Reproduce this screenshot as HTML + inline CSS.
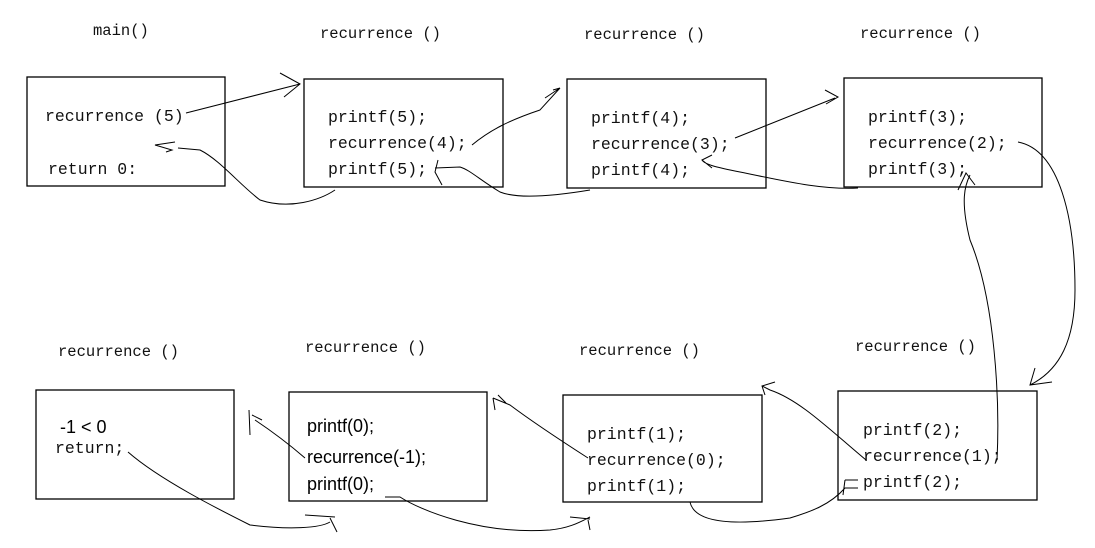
<!DOCTYPE html>
<html><head><meta charset="utf-8"><style>
body{margin:0;background:#fff;width:1095px;height:548px;overflow:hidden}
svg{display:block}
text{font-family:"Liberation Mono","Noto Serif CJK SC",monospace;font-size:16.5px;fill:#111}
.t{font-size:15.5px}
.s{font-family:"Liberation Sans","Noto Sans CJK SC",sans-serif;font-size:18px;fill:#000}
rect{fill:none;stroke:#000;stroke-width:1.3}
path{fill:none;stroke:#000;stroke-width:1}
</style></head><body>
<svg width="1095" height="548" viewBox="0 0 1095 548">
<text class="t" x="93" y="35">main()</text>
<text class="t" x="320" y="38">recurrence ()</text>
<text class="t" x="584" y="39">recurrence ()</text>
<text class="t" x="860" y="38">recurrence ()</text>
<text class="t" x="58" y="356">recurrence ()</text>
<text class="t" x="305" y="352">recurrence ()</text>
<text class="t" x="579" y="355">recurrence ()</text>
<text class="t" x="855" y="351">recurrence ()</text>

<rect x="27" y="77" width="198" height="109"/>
<rect x="304" y="79" width="199" height="108"/>
<rect x="567" y="79" width="199" height="109"/>
<rect x="844" y="78" width="198" height="109"/>
<rect x="36" y="390" width="198" height="109"/>
<rect x="289" y="392" width="198" height="109"/>
<rect x="563" y="395" width="199" height="107"/>
<rect x="838" y="391" width="199" height="109"/>

<text x="45" y="121">recurrence (5)</text>
<text x="48" y="174">return 0:</text>
<text x="328" y="122">printf(5);</text>
<text x="328" y="148">recurrence(4);</text>
<text x="328" y="174">printf(5);</text>
<text x="591" y="123">printf(4);</text>
<text x="591" y="149">recurrence(3);</text>
<text x="591" y="175">printf(4);</text>
<text x="868" y="122">printf(3);</text>
<text x="868" y="148">recurrence(2);</text>
<text x="868" y="174">printf(3);</text>
<text class="s" x="60" y="433">-1 &lt; 0</text>
<text x="55" y="453">return;</text>
<text class="s" x="307" y="432">printf(0);</text>
<text class="s" x="307" y="463">recurrence(-1);</text>
<text class="s" x="307" y="490">printf(0);</text>
<text x="587" y="439">printf(1);</text>
<text x="587" y="465">recurrence(0);</text>
<text x="587" y="491">printf(1);</text>
<text x="863" y="435">printf(2);</text>
<text x="863" y="461">recurrence(1);</text>
<text x="863" y="487">printf(2);</text>

<path d="M186 113 L300 84 M280 73 L300 84 L284 97"/>
<path d="M472 145 C490 130 510 120 540 110 L560 88 M545 98 L560 88 M553 90 L560 88"/>
<path d="M735 138 L835 98 M825 90 L838 97 L826 104"/>
<path d="M1018 142 C1060 150 1075 220 1075 290 C1075 340 1060 370 1030 385 M1035 368 L1030 385 L1052 382"/>
<path d="M997 460 C1000 400 995 300 970 240 C960 200 965 185 970 175 M958 190 L966 173 L975 185"/>
<path d="M866 460 C830 430 800 400 770 390 L762 386 M765 395 L762 386 L775 382"/>
<path d="M588 458 C560 440 530 420 510 405 L493 398 M495 410 L493 398 M498 395 L506 403"/>
<path d="M305 458 C290 445 270 430 255 420 M249 410 L250 435 M252 415 L262 420"/>
<path d="M128 452 C160 480 220 510 250 525 C290 530 320 528 330 522 M305 515 L335 517 M330 518 L337 532"/>
<path d="M385 497 L400 497 C420 510 480 535 550 530 C570 528 580 522 590 517 M570 517 L590 519 M588 520 L590 530"/>
<path d="M690 502 C695 525 740 525 790 518 C810 512 830 505 845 488 L858 488 M845 480 L858 480 M845 480 L843 495"/>
<path d="M858 188 C820 190 780 180 740 172 C720 168 705 165 702 160 M712 155 L702 160 L712 168"/>
<path d="M590 190 C560 195 520 200 500 192 C480 180 470 170 460 167 L435 168 M438 160 L435 172 L442 185"/>
<path d="M335 190 C320 200 290 210 260 200 C240 185 220 160 200 150 L178 148 M175 142 L155 145 L172 150 L166 152"/>
</svg>
</body></html>
